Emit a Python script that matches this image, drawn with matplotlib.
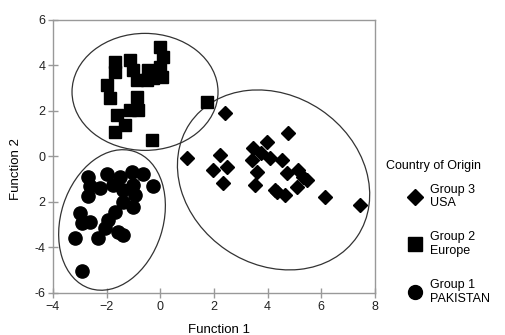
"""Discriminant function scatter with group ellipses."""

import matplotlib

matplotlib.use("Agg")
from matplotlib import pyplot as plt  # noqa: E402
from matplotlib import transforms  # noqa: E402
from matplotlib.lines import Line2D  # noqa: E402
from matplotlib.patches import Ellipse  # noqa: E402

plt.rcParams["font.family"] = ["Liberation Sans", "DejaVu Sans"]

# group 3 (USA) - diamonds
usa_x = [2.41, 0.99, 2.22, 1.96, 2.49, 2.34, 3.45, 3.98, 3.42, 3.60, 3.53, 4.09, 4.35,
         4.76, 4.54, 4.72, 5.13, 5.32, 5.47, 5.09, 4.65, 4.27, 6.14, 7.44, 3.75]
usa_y = [1.91, -0.07, 0.07, -0.59, -0.46, -1.16, 0.37, 0.64, -0.15, -0.68, -1.25, -0.07, -1.56,
         1.03, -0.15, -0.73, -0.59, -0.90, -1.03, -1.34, -1.69, -1.47, -1.78, -2.13, 0.15]

# group 2 (Europe) - squares
europe_x = [-0.01, 0.10, -0.01, 0.06, -0.27, -0.50, -0.87, -1.13, -1.02, -1.69, -1.69,
            -1.99, -1.88, -0.87, -0.83, -1.13, -1.61, -1.32, -1.69, -0.31, 1.74, -0.45]
europe_y = [4.81, 4.37, 3.93, 3.49, 3.45, 3.36, 3.36, 4.24, 3.80, 4.15, 3.71,
            3.14, 2.57, 2.62, 2.04, 2.04, 1.82, 1.38, 1.08, 0.73, 2.40, 3.80]

# group 1 (Pakistan) - circles
pakistan_x = [-2.70, -1.99, -1.51, -1.06, -0.65, -0.27, -2.62, -2.70, -2.25, -1.77, -1.40,
              -1.03, -0.95, -1.03, -1.40, -1.69, -1.95, -2.99, -2.92, -2.62, -2.06, -1.58,
              -1.39, -2.32, -3.18, -2.92]
pakistan_y = [-0.90, -0.77, -0.90, -0.68, -0.77, -1.29, -1.29, -1.73, -1.38, -1.25, -1.46,
              -1.25, -1.69, -2.22, -2.00, -2.44, -2.79, -2.48, -2.92, -2.88, -3.14, -3.31,
              -3.45, -3.58, -3.58, -5.03]

x_ticks = [-4, -2, 0, 2, 4, 6, 8]
y_ticks = [-6, -4, -2, 0, 2, 4, 6]
y_tick_labels = ["-6", "-4", "2", "0", "2", "4", "6"]

# group ellipses: centre (data), width/height (inches), angle (deg)
ellipse_centers = [(-0.57, 2.84), (-1.80, -2.79), (4.22, -1.03)]
ellipse_sizes = [(1.46, 1.17), (1.02, 1.44), (2.02, 1.69)]
ellipse_angles = [0, -18, -34]

fig = plt.figure(figsize=(5.06, 3.35), dpi=100)
ax = fig.add_axes([0.1047, 0.1254, 0.6364, 0.8149])

ax.plot(usa_x, usa_y, "D", color="black", markersize=7.0, linestyle="none", zorder=3)
ax.plot(europe_x, europe_y, "s", color="black", markersize=9.0, linestyle="none", zorder=3)
ax.plot(pakistan_x, pakistan_y, "o", color="black", markersize=9.5, linestyle="none", zorder=3)

for (cx, cy), (w, h), ang in zip(ellipse_centers, ellipse_sizes, ellipse_angles):
    trans = fig.dpi_scale_trans + transforms.ScaledTranslation(cx, cy, ax.transData)
    ax.add_patch(Ellipse((0, 0), w, h, angle=ang, transform=trans, fill=False,
                         edgecolor="#333333", linewidth=0.9, zorder=2))

ax.set_xlim(-4, 8)
ax.set_ylim(-6, 6)
ax.set_xticks(x_ticks)
ax.set_yticks(y_ticks)
ax.set_yticklabels(y_tick_labels)
for spine in ax.spines.values():
    spine.set_color("#999999")
    spine.set_linewidth(1.0)
ax.tick_params(direction="inout", length=7, width=1.0, color="#999999",
               labelsize=9, labelcolor="#222222", pad=2)

ax.set_xlabel("Function 1", fontsize=9.5)
ax.set_ylabel("Function 2", fontsize=9.5)
ax.xaxis.set_label_coords(0.515, -0.113)
ax.yaxis.set_label_coords(-0.095, 0.455)

handles = [
    Line2D([], [], marker="D", color="black", linestyle="none", markersize=8),
    Line2D([], [], marker="s", color="black", linestyle="none", markersize=10),
    Line2D([], [], marker="o", color="black", linestyle="none", markersize=10),
]
labels = ["Group 3\nUSA", "Group 2\nEurope", "Group 1\nPAKISTAN"]
fig.text(0.762, 0.505, "Country of Origin", fontsize=9, ha="left", va="center")
fig.legend(handles, labels, loc="upper left", bbox_to_anchor=(0.806, 0.452),
           frameon=False, fontsize=9, handlelength=1.2, handletextpad=0.6,
           labelspacing=1.75, borderaxespad=0, borderpad=0)

fig.savefig("out.png", dpi=100)
